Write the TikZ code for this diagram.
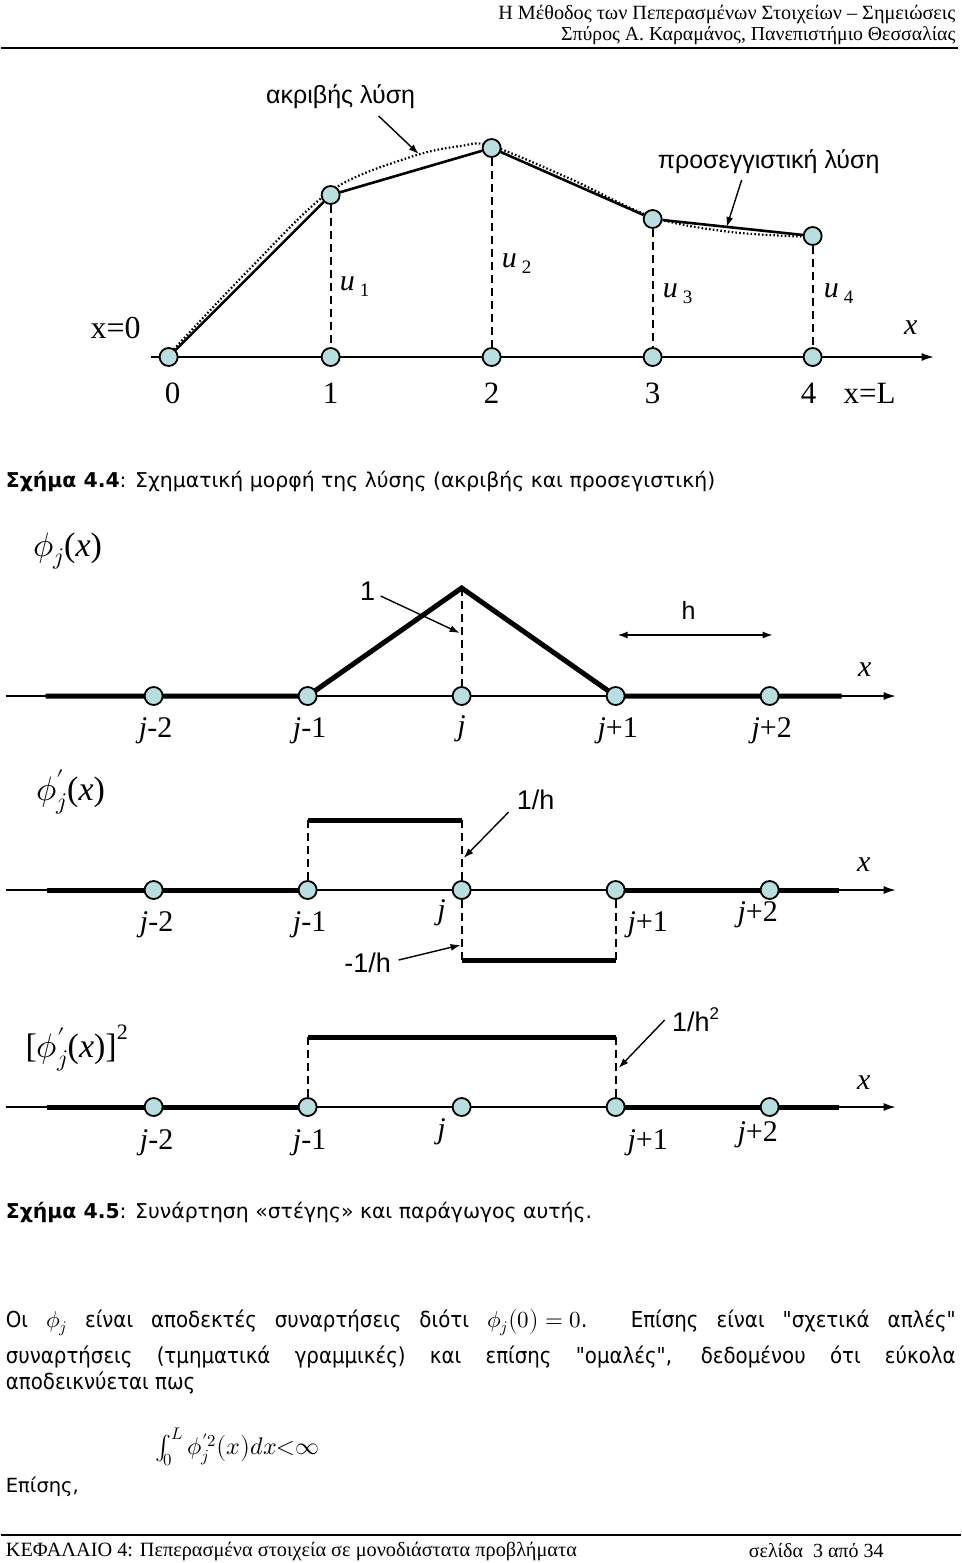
\documentclass[tikz,border=0pt]{standalone}
\usepackage{fontspec}
\usepackage{unicode-math}
\setmainfont{Liberation Serif}
\setmathfont{Latin Modern Math}
\newfontfamily\arialf{Liberation Sans}
\newfontfamily\verdf{DejaVu Sans}
\newfontfamily\verdcf{DejaVu Sans Condensed}
\usetikzlibrary{arrows.meta}
\definecolor{nodefill}{RGB}{185,222,224}
\pgfdeclarelayer{bg}
\pgfsetlayers{bg,main}
\newcommand\fs[1]{\fontsize{#1}{#1}\selectfont}
\newcommand\jl[1]{\textit{j}#1}
\tikzset{
  dot/.style={circle,draw,fill=nodefill,line width=1.8pt,inner sep=0pt,minimum size=18pt},
  lbl/.style={inner sep=0pt,font=\fs{30}},
  glbl/.style={inner sep=0pt,font=\arialf\fs{25}},
  axisln/.style={line width=1.4pt,-{Latex[length=12pt,width=8pt]}},
  thk/.style={line width=5pt},
  sol/.style={line width=2.6pt},
  dashln/.style={line width=1.8pt,dash pattern=on 8pt off 5pt},
  dotln/.style={line width=2.2pt,dash pattern=on 1.6pt off 2.2pt},
  arr/.style={line width=1.4pt,-{Latex[length=10pt,width=7pt]}},
  txt/.style={inner sep=0pt,anchor=west}
}
\begin{document}
\begin{tikzpicture}[x=1pt,y=-1pt]
\begin{pgfonlayer}{bg}
\path[use as bounding box,fill=white] (0,0) rectangle (960,1563);
\end{pgfonlayer}

% ---------- header ----------
\node[inner sep=0pt,anchor=base east,font=\fs{20.2}] (h1) at (955,20) {Η Μέθοδος των Πεπερασμένων Στοιχείων – Σημειώσεις};
\node[inner sep=0pt,anchor=base east,font=\fs{19.8}] (h2) at (955,41) {Σπύρος Α. Καραμάνος, Πανεπιστήμιο Θεσσαλίας};
\coordinate (hr1) at (0,48); \coordinate (hr2) at (957,48);
\draw[line width=1.3pt] (hr1) -- (hr2);

% ---------- figure 4.4 ----------
\coordinate (a0) at (150,357); \coordinate (a1) at (933,357);
\node[dot] (b0) at (168,357) {};
\node[dot] (b1) at (330,357) {};
\node[dot] (b2) at (491,357) {};
\node[dot] (b3) at (652,357) {};
\node[dot] (b4) at (812,357) {};
\node[dot] (t1) at (330,195) {};
\node[dot] (t2) at (491,148) {};
\node[dot] (t3) at (652,219) {};
\node[dot] (t4) at (812,236) {};
\begin{pgfonlayer}{bg}
\draw[axisln] (a0) -- (a1);
\draw[dotln] plot[smooth,tension=0.55] coordinates {(168,355) (247,271) (330,191) (410,157) (460,146) (491,146) (570,179) (652,217) (730,232) (812,237)};
\end{pgfonlayer}
\draw[sol] (b0) -- (t1) -- (t2) -- (t3) -- (t4);
\foreach \i in {1,2,3,4} \draw[dashln] (t\i) -- (b\i);
\node[glbl] (ex) at (340,97) {ακριβής λύση};
\coordinate (exa) at (378,116); \coordinate (exb) at (418,154);
\draw[arr] (exa) -- (exb);
\node[glbl] (ap) at (768,162) {προσεγγιστική λύση};
\coordinate (apa) at (741,180); \coordinate (apb) at (726,227);
\draw[arr] (apa) -- (apb);
\node[lbl] (u1) at (354,287) {\textit{u}\,\raisebox{-0.2em}{\fs{19}1}};
\node[lbl] (u2) at (516,264) {\textit{u}\,\raisebox{-0.2em}{\fs{19}2}};
\node[lbl] (u3) at (677,294) {\textit{u}\,\raisebox{-0.2em}{\fs{19}3}};
\node[lbl] (u4) at (838,294) {\textit{u}\,\raisebox{-0.2em}{\fs{19}4}};
\node[lbl,font=\fs{32}] (x0) at (115,328) {x=0};
\node[lbl] (xx) at (910,328) {\textit{x}};
\node[lbl,font=\fs{31}] (d0) at (172,393) {0};
\node[lbl,font=\fs{31}] (d1) at (330,393) {1};
\node[lbl,font=\fs{31}] (d2) at (491,393) {2};
\node[lbl,font=\fs{31}] (d3) at (652,393) {3};
\node[lbl,font=\fs{31}] (d4) at (808,393) {4};
\node[lbl,font=\fs{31}] (xL) at (869,393) {x=L};
\node[txt,font=\verdf\fs{20.4}] (cap1) at (5,481) {\textbf{Σχήμα 4.4}: Σχηματική μορφή της λύσης (ακριβής και προσεγιστική)};

% ---------- figure 4.5 (a) ----------
\coordinate (p0) at (5,696); \coordinate (p1) at (895,696);
\coordinate (pt0) at (45,696); \coordinate (pt1) at (841,696);
\coordinate (pk) at (461,588);
\node[dot] (pa) at (153,696) {};
\node[dot] (pb) at (307,696) {};
\node[dot] (pc) at (461,696) {};
\node[dot] (pd) at (615,696) {};
\node[dot] (pe) at (769,696) {};
\begin{pgfonlayer}{bg}
\draw[axisln] (p0) -- (p1);
\draw[thk,line join=miter] (pt0) -- (pb.center) -- (pk) -- (pd.center) -- (pt1);
\end{pgfonlayer}
\draw[dashln] (pk) -- (pc);
\node[lbl,font=\fs{34}] (phi1) at (67,551) {$\phi_{j}$(\textit{x})};
\node[glbl,font=\arialf\fs{27}] (one) at (367,591) {1};
\coordinate (onea) at (380,596); \coordinate (oneb) at (459,633);
\draw[arr] (onea) -- (oneb);
\coordinate (ha) at (617,635); \coordinate (hb) at (772,635);
\draw[line width=1.4pt,{Latex[length=10pt,width=7pt]}-{Latex[length=10pt,width=7pt]}] (ha) -- (hb);
\node[glbl] (hl) at (688,610) {h};
\node[lbl] (px) at (864,670) {\textit{x}};
\node[lbl] (pla) at (155,731) {\jl{-2}};
\node[lbl] (plb) at (309,731) {\jl{-1}};
\node[lbl] (plc) at (461,729) {\jl{}};
\node[lbl] (pld) at (617,731) {\jl{+1}};
\node[lbl] (ple) at (771,731) {\jl{+2}};

% ---------- figure 4.5 (b) ----------
\coordinate (q0) at (5,890); \coordinate (q1) at (895,890);
\coordinate (qt0) at (46,890); \coordinate (qt1) at (838,890);
\coordinate (qu1) at (307,820); \coordinate (qu2) at (461,820);
\coordinate (qd1) at (461,960); \coordinate (qd2) at (615,960);
\node[dot] (qa) at (153,890) {};
\node[dot] (qb) at (307,890) {};
\node[dot] (qc) at (461,890) {};
\node[dot] (qd) at (615,890) {};
\node[dot] (qe) at (769,890) {};
\begin{pgfonlayer}{bg}
\draw[axisln] (q0) -- (q1);
\draw[thk] (qt0) -- (qb.center);
\draw[thk] (qd.center) -- (qt1);
\end{pgfonlayer}
\draw[thk] (qu1) -- (qu2);
\draw[thk] (qd1) -- (qd2);
\draw[dashln] (qu1) -- (qb);
\draw[dashln] (qu2) -- (qc);
\draw[dashln] (qc) -- (qd1);
\draw[dashln] (qd) -- (qd2);
\node[lbl,font=\fs{34}] (phi2) at (70,792) {$\phi'_{j}$(\textit{x})};
\node[glbl,font=\arialf\fs{27}] (oh) at (535,800) {1/h};
\coordinate (oha) at (508,812); \coordinate (ohb) at (463,858);
\draw[arr] (oha) -- (ohb);
\node[glbl,font=\arialf\fs{27}] (moh) at (367,963) {-1/h};
\coordinate (moha) at (398,960); \coordinate (mohb) at (460,945);
\draw[arr] (moha) -- (mohb);
\node[lbl] (qx) at (863,865) {\textit{x}};
\node[lbl] (qla) at (156,925) {\jl{-2}};
\node[lbl] (qlb) at (309,925) {\jl{-1}};
\node[lbl] (qlc) at (441,913) {\jl{}};
\node[lbl] (qld) at (647,925) {\jl{+1}};
\node[lbl] (qle) at (757,915) {\jl{+2}};

% ---------- figure 4.5 (c) ----------
\coordinate (r0) at (5,1107); \coordinate (r1) at (895,1107);
\coordinate (rt0) at (46,1107); \coordinate (rt1) at (838,1107);
\coordinate (ru1) at (307,1037); \coordinate (ru2) at (615,1037);
\node[dot] (ra) at (153,1107) {};
\node[dot] (rb) at (307,1107) {};
\node[dot] (rc) at (461,1107) {};
\node[dot] (rd) at (615,1107) {};
\node[dot] (re) at (769,1107) {};
\begin{pgfonlayer}{bg}
\draw[axisln] (r0) -- (r1);
\draw[thk] (rt0) -- (rb.center);
\draw[thk] (rd.center) -- (rt1);
\end{pgfonlayer}
\draw[thk] (ru1) -- (ru2);
\draw[dashln] (ru1) -- (rb);
\draw[dashln] (ru2) -- (rd);
\node[lbl,font=\fs{34}] (phi3) at (76,1048) {[$\phi'_{j}$(\textit{x})]\raisebox{0.55em}{\fs{22}2}};
\node[glbl,font=\arialf\fs{27}] (ohh) at (695,1020) {1/h\raisebox{0.45em}{\fs{17}2}};
\coordinate (ohha) at (664,1020); \coordinate (ohhb) at (618,1068);
\draw[arr] (ohha) -- (ohhb);
\node[lbl] (rx) at (863,1083) {\textit{x}};
\node[lbl] (rla) at (156,1143) {\jl{-2}};
\node[lbl] (rlb) at (309,1143) {\jl{-1}};
\node[lbl] (rlc) at (441,1132) {\jl{}};
\node[lbl] (rld) at (647,1143) {\jl{+1}};
\node[lbl] (rle) at (757,1135) {\jl{+2}};
\node[txt,font=\verdf\fs{20.4}] (cap2) at (5,1212) {\textbf{Σχήμα 4.5}: Συνάρτηση «στέγης» και παράγωγος αυτής.};

% ---------- text ----------
\node[txt,font=\verdcf\fs{22}] (l1) at (5,1322) {\makebox[950pt][s]{Οι \mbox{\fs{23}$\phi_{j}$} είναι αποδεκτές συναρτήσεις διότι \mbox{\fs{23}$\phi_{j}\bigl(0\bigr)=0$}. Επίσης είναι "σχετικά απλές"}};
\node[txt,font=\verdcf\fs{22}] (l2) at (5,1357) {\makebox[950pt][s]{συναρτήσεις (τμηματικά γραμμικές) και επίσης "ομαλές", δεδομένου ότι εύκολα}};
\node[txt,font=\verdcf\fs{22}] (l3) at (5,1383) {αποδεικνύεται πως};
\node[inner sep=0pt,font=\fs{24}] (int) at (237,1447) {$\int_{0}^{L}\phi_{j}^{\prime 2}\bigl(x\bigr)dx\mathord{<}\infty$};
\node[txt,font=\verdf\fs{19.5}] (l4) at (5,1487) {Επίσης,};

% ---------- footer ----------
\coordinate (fr1) at (0,1535); \coordinate (fr2) at (960,1535);
\draw[line width=1.3pt] (fr1) -- (fr2);
\node[txt,font=\fs{20.3}] (f1) at (5,1551) {ΚΕΦΑΛΑΙΟ 4: Πεπερασμένα στοιχεία σε μονοδιάστατα προβλήματα};
\node[txt,font=\fs{20}] (f2) at (748,1551) {σελίδα \ 3 από 34};
\end{tikzpicture}
\end{document}
